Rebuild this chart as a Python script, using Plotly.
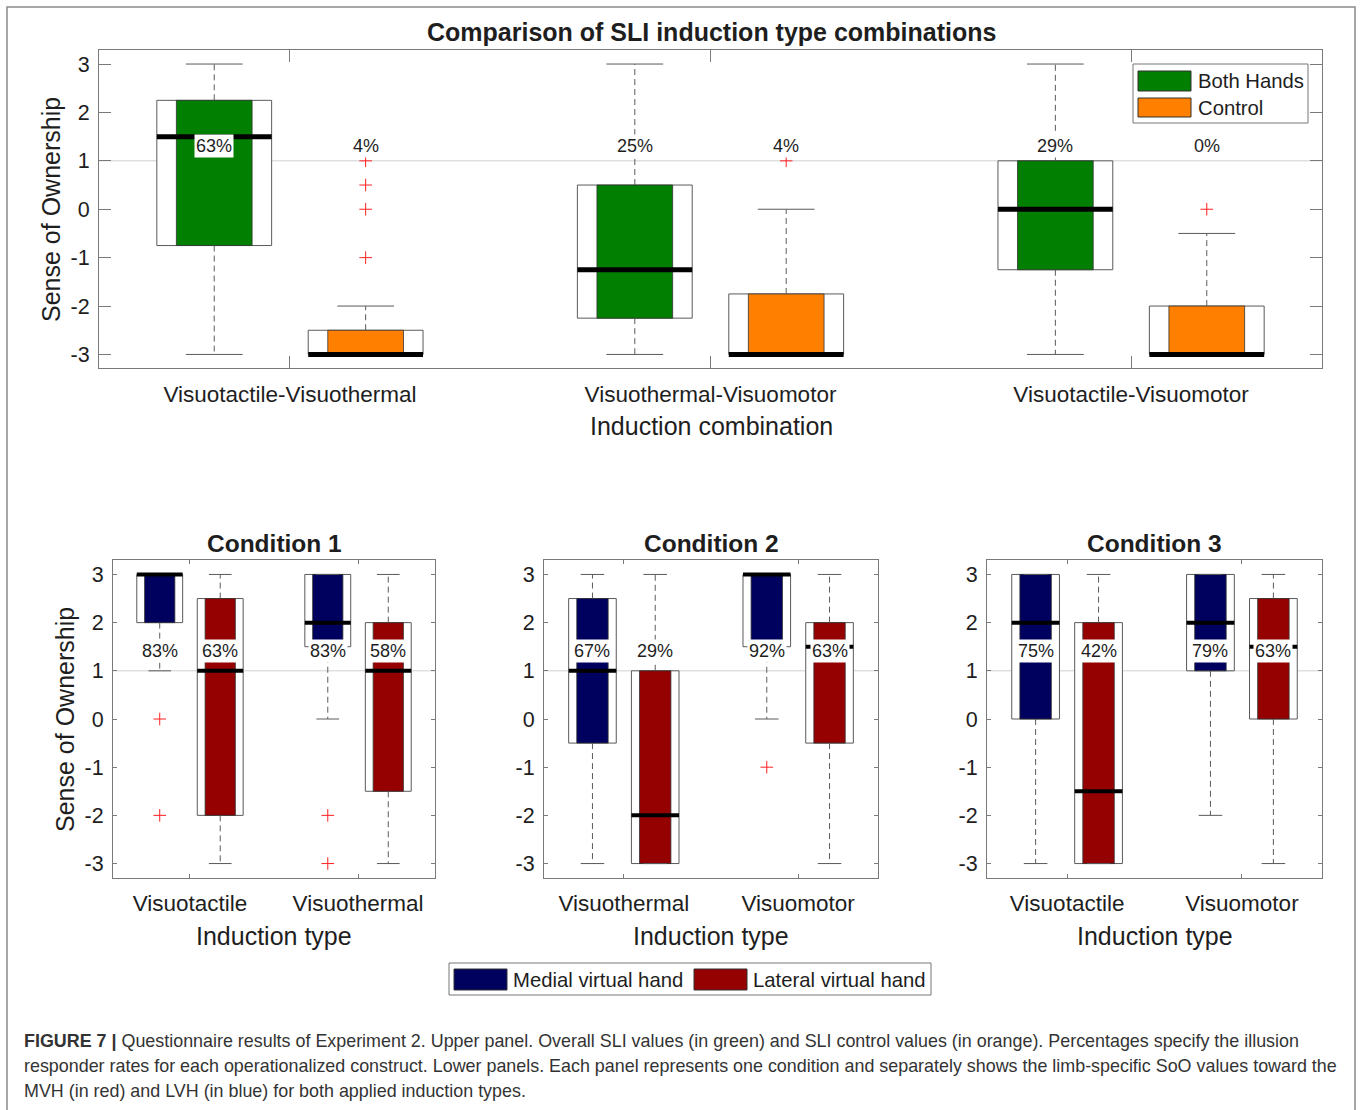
import plotly.graph_objects as go

W, H = 1360, 1110

# ---------------- data ----------------
top_categories = ["Visuotactile-Visuothermal", "Visuothermal-Visuomotor", "Visuotactile-Visuomotor"]
both_q1 = [-0.75, -2.25, -1.25]
both_med = [1.5, -1.25, 0.0]
both_q3 = [2.25, 0.5, 1.0]
both_lo = [-3, -3, -3]
both_hi = [3, 3, 3]
both_out = [[], [], []]
both_pct = ["63%", "25%", "29%"]

ctrl_q1 = [-3, -3, -3]
ctrl_med = [-3, -3, -3]
ctrl_q3 = [-2.5, -1.75, -2.0]
ctrl_lo = [-3, -3, -3]
ctrl_hi = [-2.0, 0.0, -0.5]
ctrl_out = [[1, 0.5, 0, -1], [1], [0]]
ctrl_pct = ["4%", "4%", "0%"]

cond_titles = ["Condition 1", "Condition 2", "Condition 3"]
cond_types = [["Visuotactile", "Visuothermal"],
              ["Visuothermal", "Visuomotor"],
              ["Visuotactile", "Visuomotor"]]

medial_q1 = [[2, 1.5], [-0.5, 1.5], [0, 1]]
medial_med = [[3, 2], [1, 3], [2, 2]]
medial_q3 = [[3, 3], [2.5, 3], [3, 3]]
medial_lo = [[1, 0], [-3, 0], [-3, -2]]
medial_hi = [[3, 3], [3, 3], [3, 3]]
medial_out = [[[0, -2], [-2, -3]], [[], [-1]], [[], []]]
medial_pct = [["83%", "83%"], ["67%", "92%"], ["75%", "79%"]]

lateral_q1 = [[-2, -1.5], [-3, -0.5], [-3, 0]]
lateral_med = [[1, 1], [-2, 1.5], [-1.5, 1.5]]
lateral_q3 = [[2.5, 2], [1, 2], [2, 2.5]]
lateral_lo = [[-3, -3], [-3, -3], [-3, -3]]
lateral_hi = [[3, 3], [3, 3], [3, 3]]
lateral_out = [[[], []], [[], []], [[], []]]
lateral_pct = [["63%", "58%"], ["29%", "63%"], ["42%", "63%"]]

y_ticks = [-3, -2, -1, 0, 1, 2, 3]
y_ticktext = ["-3", "-2", "-1", "0", "1", "2", "3"]

caption_lines = [
    "<b>FIGURE 7 |</b> Questionnaire results of Experiment 2. Upper panel. Overall SLI values (in green) and SLI control values (in orange). Percentages specify the illusion",
    "responder rates for each operationalized construct. Lower panels. Each panel represents one condition and separately shows the limb-specific SoO values toward the",
    "MVH (in red) and LVH (in blue) for both applied induction types.",
]

# ---------------- style ----------------
FONT = "Liberation Sans, Arial, sans-serif"
GREEN = "#007f00"
ORANGE = "#ff8000"
NAVY = "#00005e"
DRED = "#950000"
GRAYLINE = "#5a5a5a"
AXC = "#7a7a7a"
TXT = "#1e1e1e"

OFFSET = 0.18
OUTER_W = 0.273
INNER_W = 0.18
CAP_W = 0.135


def PX(x):
    return x / W


def PY(y):
    return 1 - y / H


fig = go.Figure()


def add_series(xa, ya, centers, q1, med, q3, lo, hi, outs, pct, color, med_w, label_y):
    n = len(centers)
    fig.add_trace(go.Bar(x=centers, y=[q3[i] - q1[i] for i in range(n)], base=q1,
                         width=[OUTER_W] * n, xaxis=xa, yaxis=ya,
                         marker=dict(color="white", line=dict(color=GRAYLINE, width=1)),
                         showlegend=False, hoverinfo="skip"))
    fig.add_trace(go.Bar(x=centers, y=[q3[i] - q1[i] for i in range(n)], base=q1,
                         width=[INNER_W] * n, xaxis=xa, yaxis=ya,
                         marker=dict(color=color, line=dict(color="#333333", width=0.8)),
                         showlegend=False, hoverinfo="skip"))
    wx, wy, cx, cy, mx, my, ox, oy = [], [], [], [], [], [], [], []
    for i, c in enumerate(centers):
        if hi[i] > q3[i]:
            wx += [c, c, None]
            wy += [q3[i], hi[i], None]
        if lo[i] < q1[i]:
            wx += [c, c, None]
            wy += [q1[i], lo[i], None]
        cx += [c - CAP_W / 2, c + CAP_W / 2, None, c - CAP_W / 2, c + CAP_W / 2, None]
        cy += [hi[i], hi[i], None, lo[i], lo[i], None]
        mx += [c - OUTER_W / 2, c + OUTER_W / 2, None]
        my += [med[i], med[i], None]
        for o in outs[i]:
            ox.append(c)
            oy.append(o)
    fig.add_trace(go.Scatter(x=wx, y=wy, mode="lines", xaxis=xa, yaxis=ya,
                             line=dict(color=GRAYLINE, width=1, dash="6px,4px"),
                             showlegend=False, hoverinfo="skip"))
    fig.add_trace(go.Scatter(x=cx, y=cy, mode="lines", xaxis=xa, yaxis=ya,
                             line=dict(color=GRAYLINE, width=1),
                             showlegend=False, hoverinfo="skip"))
    fig.add_trace(go.Scatter(x=mx, y=my, mode="lines", xaxis=xa, yaxis=ya,
                             line=dict(color="black", width=med_w),
                             showlegend=False, hoverinfo="skip"))
    if ox:
        fig.add_trace(go.Scatter(x=ox, y=oy, mode="markers", xaxis=xa, yaxis=ya,
                                 marker=dict(symbol="cross-thin", size=9,
                                             line=dict(color="#ff2020", width=1)),
                                 showlegend=False, hoverinfo="skip"))
    for i, c in enumerate(centers):
        fig.add_annotation(x=c, y=label_y, xref=xa, yref=ya, text=pct[i],
                           showarrow=False, bgcolor="white", borderpad=1,
                           font=dict(family=FONT, size=18, color=TXT))


# ---------- top panel ----------
pos = [i + 1 for i in range(len(top_categories))]
add_series("x", "y", [p - OFFSET for p in pos], both_q1, both_med, both_q3, both_lo, both_hi,
           both_out, both_pct, GREEN, 5, 1.31)
add_series("x", "y", [p + OFFSET for p in pos], ctrl_q1, ctrl_med, ctrl_q3, ctrl_lo, ctrl_hi,
           ctrl_out, ctrl_pct, ORANGE, 5, 1.31)

# ---------- bottom panels ----------
for k in range(3):
    xa = "x%d" % (k + 2)
    ya = "y%d" % (k + 2)
    p2 = [1, 2]
    add_series(xa, ya, [p - OFFSET for p in p2], medial_q1[k], medial_med[k], medial_q3[k],
               medial_lo[k], medial_hi[k], medial_out[k], medial_pct[k], NAVY, 4, 1.41)
    add_series(xa, ya, [p + OFFSET for p in p2], lateral_q1[k], lateral_med[k], lateral_q3[k],
               lateral_lo[k], lateral_hi[k], lateral_out[k], lateral_pct[k], DRED, 4, 1.41)

# ---------- axes ----------
def axis_common(ticklen, fs):
    return dict(showline=True, linecolor=AXC, linewidth=1, mirror="ticks",
                ticks="inside", ticklen=ticklen, tickcolor=AXC, tickwidth=1,
                showgrid=False, zeroline=False,
                tickfont=dict(family=FONT, size=fs, color=TXT))


top_dom_y = [PY(368), PY(50)]
bot_dom_y = [PY(878), PY(560)]
bot_dom_x = [[PX(113), PX(435)], [PX(544), PX(878)], [PX(987), PX(1322)]]

fig.update_layout(
    xaxis=dict(domain=[PX(99), PX(1322)], range=[0.546, 3.454], anchor="y",
               tickvals=pos, ticktext=top_categories, ticklabelstandoff=6,
               **axis_common(12, 22.5)),
    yaxis=dict(domain=top_dom_y, range=[-3.28, 3.29], anchor="x",
               tickvals=y_ticks, ticktext=y_ticktext, ticklabelstandoff=4,
               **axis_common(12, 21.5)),
)
for k in range(3):
    fig.layout["xaxis%d" % (k + 2)] = dict(domain=bot_dom_x[k], range=[0.542, 2.458],
                                           anchor="y%d" % (k + 2), tickvals=[1, 2],
                                           ticktext=cond_types[k], ticklabelstandoff=5,
                                           **axis_common(4, 22.5))
    fig.layout["yaxis%d" % (k + 2)] = dict(domain=bot_dom_y, range=[-3.3, 3.3],
                                           anchor="x%d" % (k + 2), tickvals=y_ticks,
                                           ticktext=y_ticktext, ticklabelstandoff=4,
                                           **axis_common(4, 21.5))

# reference line at y = 1
shapes = []
for k, (xa, ya) in enumerate([("x", "y"), ("x2", "y2"), ("x3", "y3"), ("x4", "y4")]):
    shapes.append(dict(type="line", xref=xa + " domain", yref=ya, x0=0, x1=1, y0=1, y1=1,
                       line=dict(color="#d0d0d0", width=1), layer="below"))

# outer frame
shapes.append(dict(type="rect", xref="paper", yref="paper", x0=PX(7), x1=PX(1355),
                   y0=PY(1116), y1=PY(7), line=dict(color="#8a8a8a", width=1.5),
                   fillcolor="rgba(0,0,0,0)"))

# legends (drawn)
shapes.append(dict(type="rect", xref="paper", yref="paper", x0=PX(1133), x1=PX(1308),
                   y0=PY(123), y1=PY(64), line=dict(color="#777777", width=1), fillcolor="white"))
shapes.append(dict(type="rect", xref="paper", yref="paper", x0=PX(1138), x1=PX(1191),
                   y0=PY(91), y1=PY(71), line=dict(color="#333333", width=1), fillcolor=GREEN))
shapes.append(dict(type="rect", xref="paper", yref="paper", x0=PX(1138), x1=PX(1191),
                   y0=PY(117), y1=PY(98), line=dict(color="#333333", width=1), fillcolor=ORANGE))
shapes.append(dict(type="rect", xref="paper", yref="paper", x0=PX(449), x1=PX(931),
                   y0=PY(995), y1=PY(963), line=dict(color="#777777", width=1), fillcolor="white"))
shapes.append(dict(type="rect", xref="paper", yref="paper", x0=PX(454), x1=PX(507),
                   y0=PY(990), y1=PY(969), line=dict(color="#333333", width=1), fillcolor=NAVY))
shapes.append(dict(type="rect", xref="paper", yref="paper", x0=PX(694), x1=PX(747),
                   y0=PY(990), y1=PY(969), line=dict(color="#333333", width=1), fillcolor=DRED))
fig.update_layout(shapes=shapes)


def text_at(x, y, s, size, bold=False, xanchor="center", angle=0, color=TXT):
    fig.add_annotation(x=PX(x), y=PY(y), xref="paper", yref="paper", text=("<b>%s</b>" % s) if bold else s,
                       showarrow=False, xanchor=xanchor, yanchor="middle", textangle=angle,
                       font=dict(family=FONT, size=size, color=color))


text_at(1196, 81, "Both Hands", 20.3, xanchor="left")
text_at(1196, 108, "Control", 20.3, xanchor="left")
text_at(511, 980, "Medial virtual hand", 20.3, xanchor="left")
text_at(751, 980, "Lateral virtual hand", 20.3, xanchor="left")

text_at(711, 32, "Comparison of SLI induction type combinations", 25, bold=True)
text_at(711, 426, "Induction combination", 25)
text_at(51, 210, "Sense of Ownership", 25, angle=-90)
text_at(65, 720, "Sense of Ownership", 25, angle=-90)
centers_px = [274, 711, 1154.5]
for k in range(3):
    text_at(centers_px[k], 543, cond_titles[k], 24.5, bold=True)
    text_at(centers_px[k], 936, "Induction type", 25)

for i, line in enumerate(caption_lines):
    text_at(22, 1041 + 25 * i, line, 17.9, xanchor="left", color="#333333")

fig.update_layout(width=W, height=H, margin=dict(l=0, r=0, t=0, b=0),
                  paper_bgcolor="white", plot_bgcolor="white", barmode="overlay",
                  showlegend=False, font=dict(family=FONT))

fig.write_html("out.html", config={"displayModeBar": False},
               post_script="document.body.style.margin='0';")
